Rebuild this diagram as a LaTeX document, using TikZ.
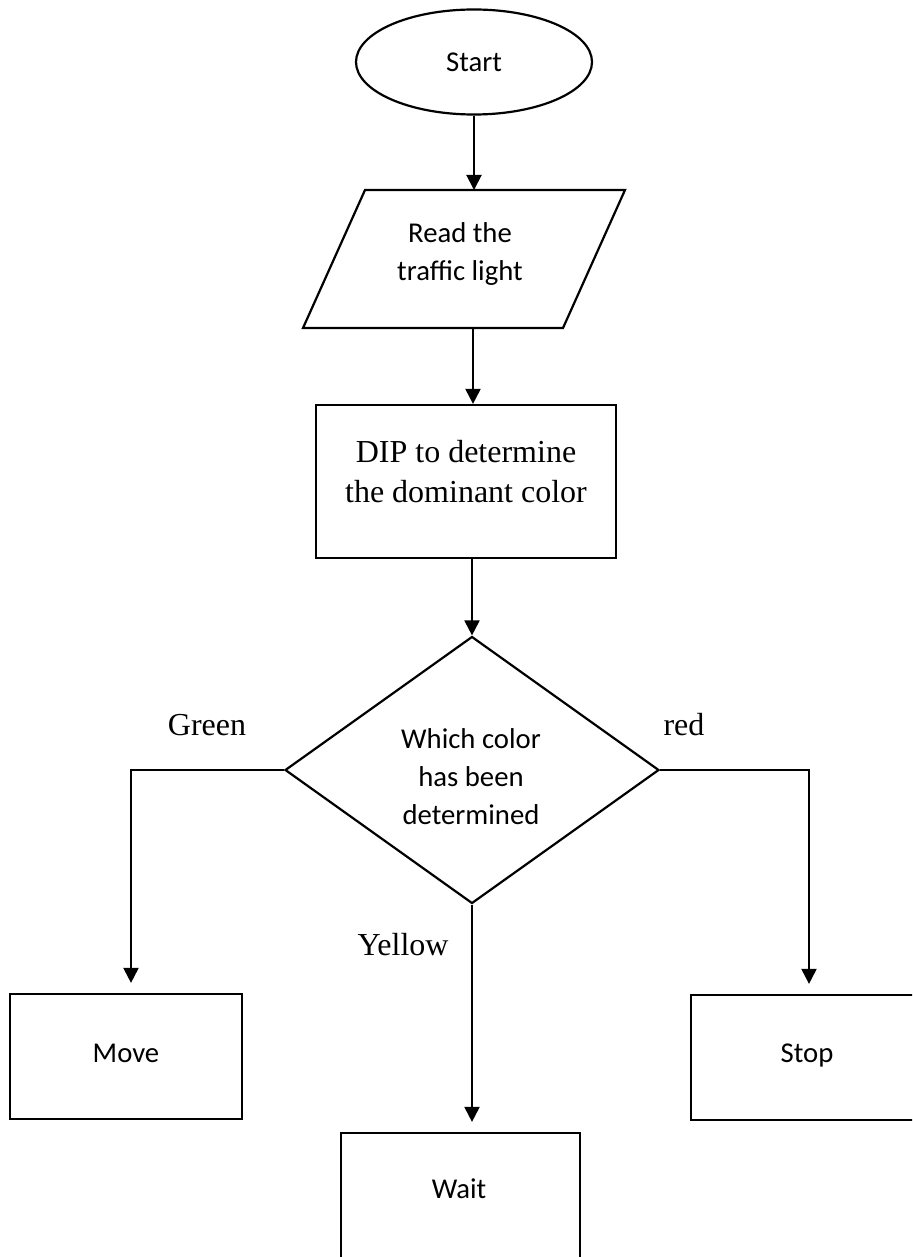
\documentclass[tikz,border=0pt]{standalone}
\usepackage{fontspec}
\setmainfont{Carlito}
\newfontfamily\timesfont{Liberation Serif}
\usetikzlibrary{shapes.geometric,arrows.meta}

\begin{document}
\begin{tikzpicture}[x=1pt,y=-1pt,line width=2pt,
  flow/.style={draw,line width=2.2pt,inner sep=0pt},
  box/.style={flow,rectangle},
  arr/.style={-{Triangle[length=15pt,width=15pt]}},
  sans/.style={font=\fontsize{28.7}{38}\selectfont,align=center},
  serif/.style={font=\timesfont\fontsize{32}{40}\selectfont,align=center}]
\clip (0,0) rectangle (912,1257);
\fill[white] (0,0) rectangle (912,1257);
% start and input
\node[flow,ellipse,minimum width=236pt,minimum height=105pt,sans] (start) at (474,62) {Start};
\coordinate (readtop) at (474,190);
\coordinate (readbot) at (473,328);
\draw[flow] (365,190) -- (625,190) -- (563,328) -- (303,328) -- cycle;
\node[sans] (read) at (460,254) {Read the\\traffic light};
\draw[arr] (start.south) -- (readtop);
% image processing
\node[box,minimum width=300pt,minimum height=153pt] (dip) at (466,481.5) {};
\node[serif] (diptext) at (466,472) {DIP to determine\\the dominant color};
\draw[arr] (readbot) -- (readbot |- dip.north);
% decision
\node[flow,diamond,minimum width=374pt,minimum height=267pt] (which) at (472,770) {};
\node[sans] (whichtext) at (471,777) {Which color\\has been\\determined};
\draw[arr] (which.north |- dip.south) -- (which.north);
% outcomes
\node[box,minimum width=232pt,minimum height=125pt] (move) at (126,1056.5) {};
\node[sans] (movetext) at (126,1053) {Move};
\node[box,minimum width=235pt,minimum height=125pt] (stop) at (808.5,1057.5) {};
\node[sans] (stoptext) at (807,1055) {Stop};
\node[box,minimum width=239pt,minimum height=125pt] (wait) at (460.5,1195.5) {};
\node[sans] (waittext) at (459,1189) {Wait};
\coordinate (greenturn) at (131,770);
\coordinate (redturn) at (809,770);
\draw[arr,shorten >=10pt] (which.west) -- (greenturn) -- (greenturn |- move.north);
\draw[arr,shorten >=10pt] (which.east) -- (redturn) -- (redturn |- stop.north);
\draw[arr,shorten >=10pt] (which.south) -- (which.south |- wait.north);
\node[serif] (green) at (207,725) {Green};
\node[serif] (red) at (684,725) {red};
\node[serif] (yellow) at (403,945) {Yellow};
\end{tikzpicture}
\end{document}
